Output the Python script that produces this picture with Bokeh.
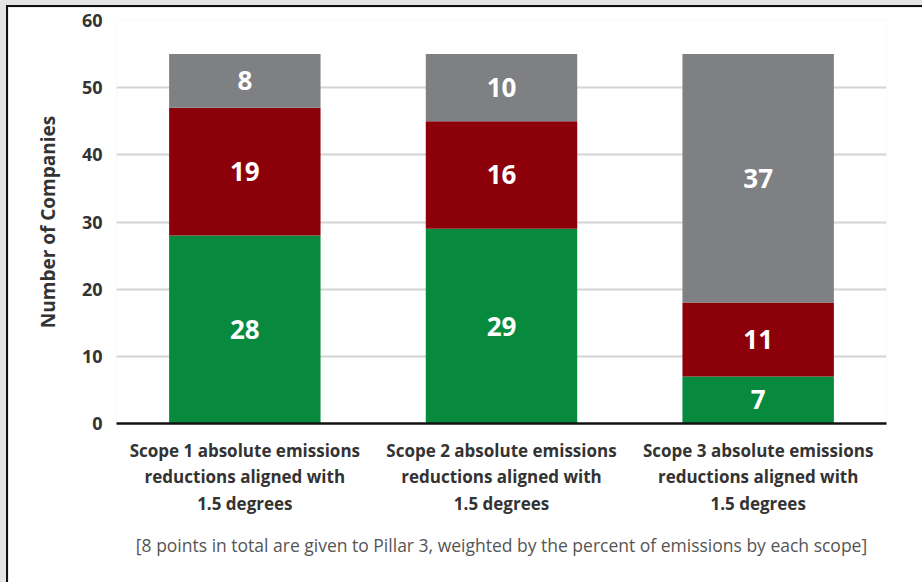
from bokeh.plotting import figure
from bokeh.models import Title, FixedTicker, Range1d, ColumnDataSource
from bokeh.layouts import column
from bokeh.core.properties import value
from bokeh.embed import file_html
from bokeh.resources import INLINE

# Data
categories = [
    "Scope 1 absolute emissions\nreductions aligned with\n1.5 degrees",
    "Scope 2 absolute emissions\nreductions aligned with\n1.5 degrees",
    "Scope 3 absolute emissions\nreductions aligned with\n1.5 degrees",
]
aligned = [28, 29, 7]
not_aligned = [19, 16, 11]
other = [8, 10, 37]
series = ["aligned", "not_aligned", "other"]
colors = ["#078a3e", "#8c0009", "#7e8083"]
y_ticks = [0, 10, 20, 30, 40, 50, 60]
footnote = "[8 points in total are given to Pillar 3, weighted by the percent of emissions by each scope]"

FONT = "Open Sans"
TEXT_DARK = "#333333"

src = ColumnDataSource(dict(cat=categories, aligned=aligned,
                            not_aligned=not_aligned, other=other))

p = figure(x_range=categories, y_range=Range1d(0, 60),
           width=916, height=577, output_backend="svg",
           toolbar_location=None,
           min_border_left=108, min_border_right=38,
           min_border_top=13, min_border_bottom=161)
p.outline_line_color = None
p.background_fill_color = "white"
p.border_fill_color = "white"

p.vbar_stack(series, x="cat", width=0.59, source=src,
             color=colors, line_color=None)

# Segment value labels, centred in each stacked block
lab_x, lab_y, lab_t = [], [], []
for i, c in enumerate(categories):
    base = 0
    for vals in (aligned, not_aligned, other):
        v = vals[i]
        lab_x.append(c)
        lab_y.append(base + v / 2)
        lab_t.append(str(v))
        base += v
p.text(x=lab_x, y=lab_y, text=lab_t, text_color="white",
       text_font=value(FONT), text_font_style="bold",
       text_font_size="26px", text_align="center", text_baseline="middle")

# Y axis
p.yaxis.ticker = FixedTicker(ticks=y_ticks)
p.yaxis.axis_line_color = None
p.yaxis.major_tick_line_color = None
p.yaxis.minor_tick_line_color = None
p.yaxis.major_label_standoff = 8
p.yaxis.major_label_text_font = FONT
p.yaxis.major_label_text_font_style = "bold"
p.yaxis.major_label_text_font_size = "18px"
p.yaxis.major_label_text_color = TEXT_DARK
p.yaxis.axis_label = "Number of Companies"
p.yaxis.axis_label_text_font = FONT
p.yaxis.axis_label_text_font_style = "bold"
p.yaxis.axis_label_text_font_size = "19px"
p.yaxis.axis_label_text_color = TEXT_DARK
p.yaxis.axis_label_standoff = 18

# X axis
p.xaxis.axis_line_color = "#111111"
p.xaxis.axis_line_width = 2.5
p.xaxis.major_tick_line_color = None
p.xaxis.minor_tick_line_color = None
p.xaxis.major_label_standoff = 9
p.xaxis.major_label_text_font = FONT
p.xaxis.major_label_text_font_style = "bold"
p.xaxis.major_label_text_font_size = "17px"
p.xaxis.major_label_text_color = TEXT_DARK
p.xaxis.major_label_text_line_height = 1.17

# Grid
p.xgrid.grid_line_color = None
p.ygrid.grid_line_color = "#d4d4d4"
p.ygrid.grid_line_width = 2

# Footnote under the category labels
p.add_layout(Title(text=footnote, align="center", standoff=24, offset=-4,
                   text_font=FONT, text_font_style="normal",
                   text_font_size="17.5px", text_color="#555555"), "below")

p.styles = {"border-top": "2px solid #111111", "border-left": "2px solid #111111"}
page = column(p, styles={"background-color": "#e4e4e4", "padding": "5px 0 0 6px"})

open("out.html", "w").write(file_html(page, INLINE))
